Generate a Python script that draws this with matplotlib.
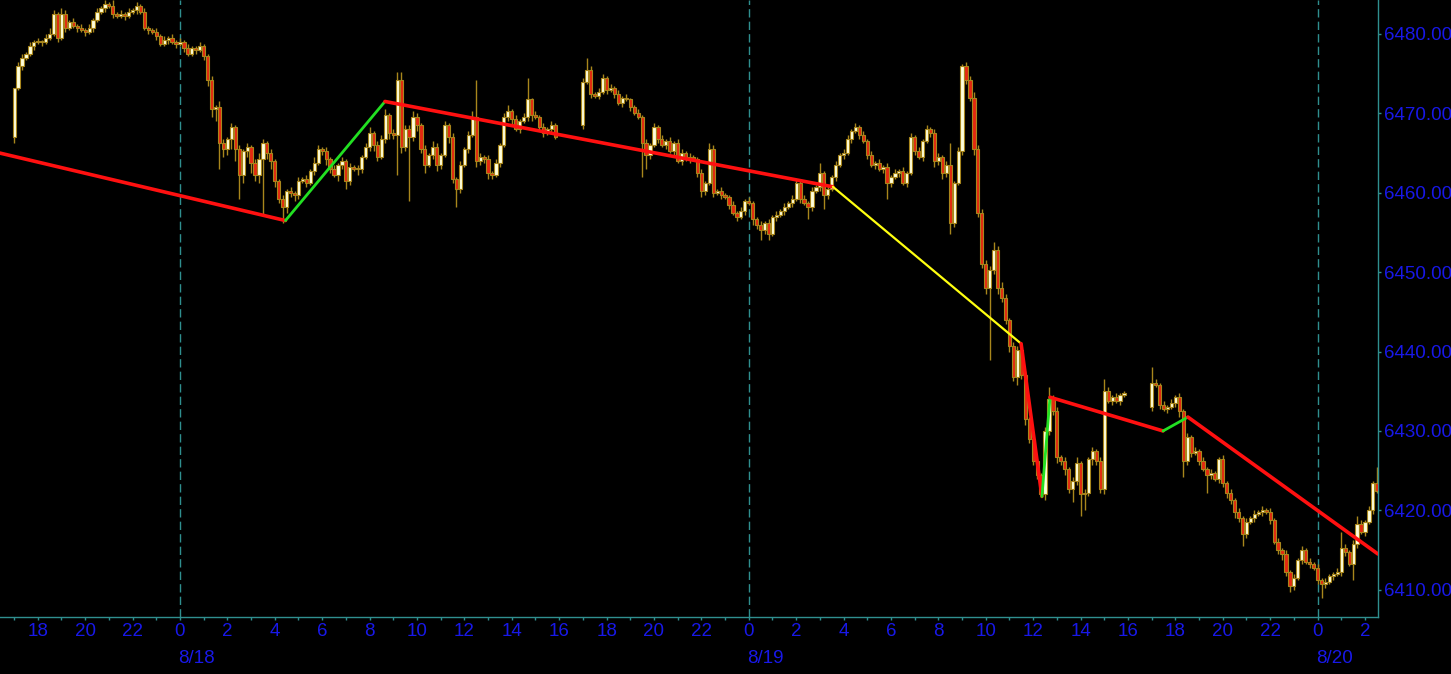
import numpy as np
import matplotlib
matplotlib.use("Agg")
import matplotlib.pyplot as plt

# ---------------- data (10-minute bars, time in hours from 8/18 00:00) ----------------
BAR_HOURS = 1 / 6
TICK = 0.25

s1_start = -7.0      # 8/17 17:00
s1_open0 = 6467.0
s1_close = [6473.25, 6476.0, 6477.0, 6477.5, 6478.5, 6479.0, 6479.0, 6479.0, 6479.5, 6480.0,
            6482.5, 6479.5, 6482.5, 6480.75, 6481.5, 6481.0, 6480.75, 6480.5, 6480.25, 6480.75,
            6481.75, 6482.75, 6483.25, 6483.75, 6483.5, 6482.5, 6482.25, 6482.5, 6482.25, 6482.75,
            6483.0, 6483.5, 6482.75, 6480.75, 6480.5, 6480.25, 6479.75, 6478.75, 6479.25, 6479.5,
            6479.0, 6478.75, 6479.0, 6478.25, 6477.5, 6478.25, 6478.0, 6478.5, 6477.25, 6474.25,
            6470.5, 6470.75, 6466.25, 6465.5, 6466.75, 6468.25, 6465.5, 6462.25, 6465.25, 6465.75,
            6463.75, 6462.25, 6464.25, 6466.25, 6465.0, 6464.0, 6461.5, 6459.25, 6458.25, 6460.25,
            6460.0, 6459.75, 6461.5, 6461.75, 6461.25, 6462.75, 6463.75, 6465.5, 6465.25, 6464.25,
            6463.0, 6462.25, 6463.5, 6464.0, 6461.5, 6463.25, 6463.0, 6463.0, 6464.5, 6465.75,
            6467.5, 6466.0, 6464.5, 6466.75, 6469.75, 6467.5, 6467.25, 6474.25, 6465.75, 6468.0,
            6467.0, 6469.5, 6468.5, 6465.5, 6463.5, 6464.75, 6465.75, 6463.5, 6464.75, 6468.5,
            6467.0, 6461.75, 6460.5, 6463.5, 6465.5, 6467.25, 6469.5, 6464.0, 6464.5, 6464.25,
            6462.5, 6462.25, 6463.75, 6466.0, 6469.5, 6470.25, 6469.25, 6468.0, 6469.0, 6469.5,
            6471.75, 6469.75, 6469.5, 6468.25, 6467.5, 6468.0, 6468.5, 6467.0]
s1_up = [0, 2, 2, 1, 2, 1, 2, 1, 2, 3, 2, 1, 3, 2, 1, 2, 1, 2, 1, 2,
         1, 2, 1, 2, 1, 3, 1, 2, 1, 2, 1, 2, 1, 2, 1, 1, 2, 1, 2, 1,
         2, 1, 2, 1, 2, 1, 1, 2, 1, 1, 2, 1, 3, 2, 1, 2, 1, 2, 1, 2,
         1, 2, 3, 2, 1, 2, 1, 1, 2, 1, 2, 1, 2, 1, 2, 1, 3, 2, 1, 2,
         1, 2, 1, 2, 1, 2, 1, 2, 1, 2, 3, 1, 2, 2, 3, 1, 2, 4, 4, 2,
         2, 3, 2, 1, 2, 1, 3, 2, 1, 2, 1, 2, 1, 2, 1, 2, 3, 19, 2, 1,
         2, 1, 2, 1, 2, 3, 1, 2, 1, 2, 11, 1, 2, 1, 2, 1, 2, 1]
s1_dn = [3, 1, 2, 1, 1, 2, 1, 2, 1, 1, 1, 2, 1, 2, 1, 1, 2, 1, 2, 1,
         2, 1, 1, 2, 1, 2, 1, 1, 2, 1, 1, 2, 1, 1, 2, 1, 2, 1, 1, 2,
         1, 2, 1, 2, 1, 1, 2, 1, 2, 3, 4, 6, 13, 4, 3, 5, 6, 12, 4, 3,
         5, 3, 4, 28, 3, 4, 3, 2, 8, 3, 2, 3, 2, 1, 2, 1, 2, 1, 2, 3,
         2, 1, 3, 2, 4, 2, 1, 3, 2, 1, 2, 3, 2, 1, 2, 3, 2, 20, 3, 2,
         32, 2, 3, 2, 4, 1, 2, 3, 2, 1, 3, 2, 9, 2, 1, 2, 1, 3, 2, 2,
         3, 2, 1, 2, 1, 2, 3, 1, 2, 1, 2, 3, 1, 2, 2, 1, 2, 1]

s2_start = 17.0      # 8/18 17:00
s2_open0 = 6468.5
s2_close = [6474.0, 6475.5, 6472.5, 6472.25, 6472.75, 6474.5, 6473.0, 6473.25, 6472.5, 6471.25,
            6472.0, 6471.75, 6470.75, 6470.0, 6469.5, 6466.25, 6464.75, 6466.0, 6468.25, 6466.75,
            6466.0, 6466.5, 6465.25, 6466.25, 6464.0, 6465.0, 6464.25, 6464.5, 6464.25, 6462.5,
            6460.25, 6461.25, 6465.5, 6460.0, 6460.25, 6459.75, 6459.5, 6458.5, 6457.5, 6457.0,
            6457.75, 6459.0, 6458.75, 6456.75, 6456.0, 6455.25, 6456.25, 6454.75, 6457.0, 6457.25,
            6457.75, 6458.25, 6458.75, 6459.25, 6461.25, 6459.25, 6458.75, 6458.25, 6460.25, 6460.75,
            6462.5, 6459.75, 6460.5, 6462.0, 6463.5, 6464.75, 6465.0, 6466.75, 6467.75, 6468.25,
            6467.25, 6466.5, 6464.75, 6463.5, 6463.75, 6463.0, 6463.25, 6461.25, 6462.0, 6462.5,
            6462.75, 6461.25, 6462.5, 6467.0, 6465.25, 6464.5, 6466.5, 6468.0, 6467.5, 6464.0,
            6464.5, 6462.5, 6463.5, 6456.25, 6461.25, 6465.25, 6476.0, 6474.25, 6472.0, 6465.5,
            6457.5, 6451.0, 6448.0, 6450.25, 6452.75, 6448.0, 6446.75, 6444.0, 6440.75, 6436.75,
            6440.25, 6437.0, 6431.5, 6429.0, 6426.25, 6424.5, 6422.0, 6430.0, 6434.0, 6432.5,
            6426.75, 6426.25, 6425.25, 6422.75, 6423.75, 6426.0, 6422.0, 6422.25, 6426.5, 6427.5,
            6426.25, 6422.75, 6435.0, 6433.75, 6434.25, 6433.75, 6434.5, 6434.75]
s2_up = [2, 6, 2, 1, 2, 2, 1, 2, 1, 2, 1, 2, 1, 1, 2, 1, 2, 1, 2, 1,
         2, 1, 2, 1, 2, 2, 1, 2, 1, 1, 2, 1, 3, 2, 1, 2, 1, 1, 2, 1,
         2, 1, 2, 1, 1, 2, 1, 2, 1, 2, 1, 2, 1, 2, 2, 1, 2, 1, 2, 1,
         5, 1, 2, 1, 2, 1, 2, 2, 1, 2, 1, 2, 1, 2, 1, 2, 1, 2, 1, 2,
         1, 2, 1, 2, 1, 2, 1, 2, 1, 2, 2, 1, 2, 11, 1, 2, 1, 2, 2, 3,
         2, 2, 2, 2, 4, 2, 3, 2, 1, 2, 2, 3, 2, 1, 2, 1, 1, 2, 6, 2,
         2, 1, 2, 1, 2, 3, 1, 2, 1, 2, 1, 2, 6, 2, 1, 2, 1, 1]
s2_dn = [2, 1, 2, 1, 2, 1, 2, 1, 2, 1, 2, 1, 2, 1, 1, 17, 7, 2, 1, 2,
         1, 2, 1, 2, 1, 2, 1, 2, 1, 2, 3, 2, 1, 2, 1, 2, 1, 2, 1, 2,
         1, 2, 1, 3, 2, 5, 2, 3, 1, 2, 1, 2, 1, 2, 1, 2, 1, 6, 2, 1,
         2, 7, 2, 1, 2, 1, 2, 1, 2, 1, 2, 1, 2, 1, 2, 1, 2, 8, 2, 1,
         2, 1, 2, 1, 2, 1, 2, 1, 2, 3, 2, 3, 2, 6, 2, 1, 2, 2, 2, 3,
         2, 2, 3, 36, 2, 3, 2, 2, 3, 2, 4, 2, 3, 2, 2, 2, 1, 3, 2, 2,
         3, 2, 3, 2, 7, 2, 11, 8, 2, 3, 2, 2, 3, 1, 2, 1, 2, 1]

s3_start = 41.0      # 8/19 17:00
s3_open0 = 6433.0
s3_close = [6436.0, 6435.75, 6433.25, 6432.75, 6433.0, 6433.5, 6434.25, 6432.5, 6426.25, 6429.25,
            6427.25, 6427.5, 6426.25, 6425.25, 6424.5, 6424.75, 6424.0, 6426.5, 6423.5, 6422.25,
            6421.25, 6419.75, 6419.0, 6417.0, 6418.5, 6419.0, 6419.5, 6419.75, 6420.0, 6419.75,
            6418.75, 6416.0, 6415.0, 6414.5, 6412.25, 6410.5, 6411.5, 6413.75, 6415.0, 6413.5,
            6413.25, 6412.75, 6411.25, 6410.75, 6411.0, 6411.75, 6412.0, 6412.25, 6415.25, 6414.75,
            6413.25, 6415.75, 6418.25, 6417.25, 6418.5, 6420.0, 6423.5, 6422.5]
s3_up = [8, 2, 1, 2, 1, 2, 1, 2, 1, 2, 1, 2, 1, 2, 1, 2, 1, 1, 2, 1,
         2, 1, 2, 1, 2, 1, 2, 1, 2, 1, 2, 1, 2, 1, 2, 1, 2, 1, 2, 1,
         2, 1, 2, 1, 2, 1, 1, 2, 8, 2, 1, 2, 4, 2, 1, 2, 1, 8]
s3_dn = [2, 1, 2, 1, 2, 1, 2, 3, 8, 2, 2, 1, 2, 1, 9, 2, 1, 2, 2, 3,
         2, 3, 2, 6, 2, 1, 2, 1, 2, 1, 2, 1, 2, 3, 2, 3, 2, 1, 2, 1,
         2, 1, 2, 7, 2, 1, 2, 1, 2, 2, 1, 8, 2, 1, 2, 1, 2, 1]

# zig-zag overlay (time in hours, price)
zz_t = [-7.6, 4.45, 8.65, 27.55, 35.49, 36.37, 36.71, 41.48, 42.53, 50.55]
zz_p = [6465.0, 6456.5, 6471.5, 6460.75, 6441.0, 6421.75, 6434.25, 6430.0, 6431.75, 6414.5]
zz_colors = ["#ff1010", "#22e022", "#ff1010", "#ffff10", "#ff1010",
             "#22e022", "#ff1010", "#22e022", "#ff1010"]
zz_widths = [2.6, 2.0, 2.6, 1.6, 2.6, 2.0, 2.6, 2.0, 2.6]

day_breaks = [0, 24, 48]
day_labels = ["8/18", "8/19", "8/20"]
price_ticks = [6410, 6420, 6430, 6440, 6450, 6460, 6470, 6480]

# ---------------- style ----------------
BG = "black"
AXIS_COL = "#2f8f8f"
TEXT_COL = "#1818e8"
UP_FILL = "#ffffdc"
DN_FILL = "#e42810"
EDGE = "#a8861c"
FONT = "Liberation Sans"
FS = 13.5

fig = plt.figure(figsize=(14.51, 6.74), dpi=100, facecolor=BG)
ax = fig.add_axes([0, (674 - 617) / 674, 1378 / 1451, 617 / 674])
ax.set_facecolor(BG)

sessions = [(s1_start, s1_open0, s1_close, s1_up, s1_dn),
            (s2_start, s2_open0, s2_close, s2_up, s2_dn),
            (s3_start, s3_open0, s3_close, s3_up, s3_dn)]

for start, open0, close, up, dn in sessions:
    c = np.array(close, dtype=float)
    o = np.concatenate([[open0], c[:-1]])
    t = start + np.arange(len(c)) * BAR_HOURS
    hi = np.maximum(o, c) + np.array(up) * TICK
    lo = np.minimum(o, c) - np.array(dn) * TICK
    ax.vlines(t, lo, hi, color=EDGE, lw=1.0, zorder=2)
    bottoms = np.minimum(o, c)
    heights = np.maximum(np.abs(c - o), 0.12)
    fills = [UP_FILL if cc >= oo else DN_FILL for oo, cc in zip(o, c)]
    ax.bar(t, heights, bottom=bottoms, width=0.135, color=fills,
           edgecolor=EDGE, linewidth=0.8, zorder=3)

for i in range(len(zz_t) - 1):
    ax.plot(zz_t[i:i + 2], zz_p[i:i + 2], color=zz_colors[i], lw=zz_widths[i],
            solid_capstyle="round", zorder=5)

for d in day_breaks:
    ax.axvline(d, color=AXIS_COL, lw=1.0, linestyle=(0, (6, 3)), zorder=1)

ax.set_xlim(-7.595, 50.55)
ax.set_ylim(6406.57, 6484.28)

# axes frame
for side in ("top", "left"):
    ax.spines[side].set_visible(False)
for side in ("bottom", "right"):
    ax.spines[side].set_color(AXIS_COL)
    ax.spines[side].set_linewidth(1.0)

# x ticks: hours of day
major_x = np.arange(-6, 51, 2)
ax.set_xticks(major_x)
ax.set_xticklabels([str(int(h) % 24) for h in major_x])
ax.set_xticks(np.arange(-7, 51, 1), minor=True)
ax.tick_params(axis="x", which="both", colors=AXIS_COL, length=2.5, width=1,
               direction="out", pad=2.0, labelsize=FS, labelcolor=TEXT_COL)

# y ticks on the right
ax.yaxis.tick_right()
ax.set_yticks(price_ticks)
ax.set_yticklabels([f"{p:.3f}" for p in price_ticks])
ax.tick_params(axis="y", which="both", colors=AXIS_COL, length=2.5, width=1,
               direction="out", pad=1.5, labelsize=FS, labelcolor=TEXT_COL)
ax.tick_params(left=False, labelleft=False)

for lab in ax.get_xticklabels() + ax.get_yticklabels():
    lab.set_fontfamily(FONT)

for d, lab in zip(day_breaks, day_labels):
    ax.annotate(lab, xy=(d, 0), xycoords=("data", "axes fraction"),
                xytext=(-1, -33), textcoords="offset points",
                ha="left", va="baseline", color=TEXT_COL, fontsize=FS,
                fontfamily=FONT, annotation_clip=False)

fig.savefig("out.png", dpi=100, facecolor=BG)
